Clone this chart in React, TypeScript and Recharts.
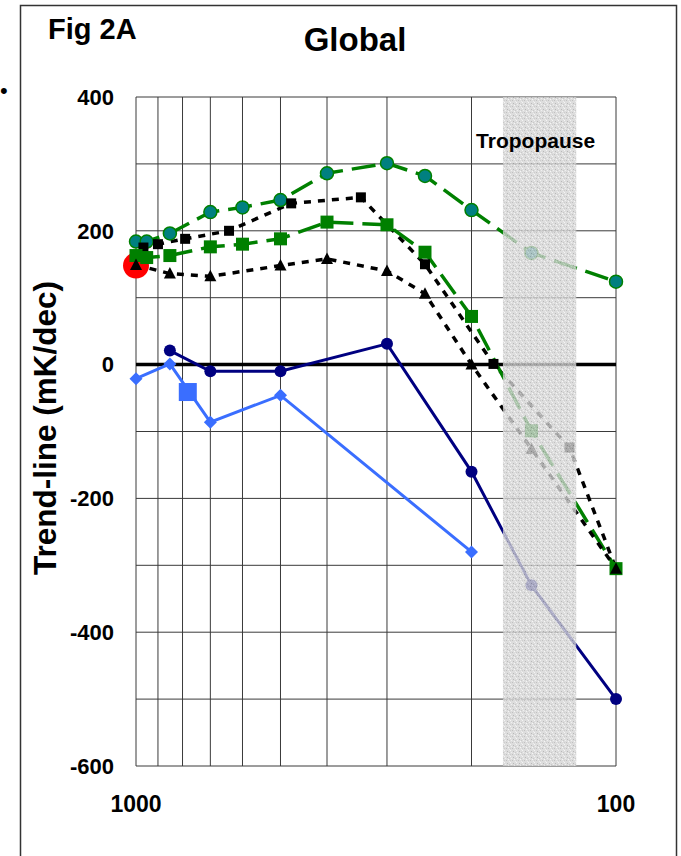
import React from 'react';
import {
  ComposedChart,
  Line,
  Scatter,
  XAxis,
  YAxis,
  CartesianGrid,
  ReferenceLine,
  ReferenceArea,
} from 'recharts';

const FONT = '"Liberation Sans", Arial, Helvetica, sans-serif';

// Axis / grid values
const pressureTicks = [1000, 100];
const trendTicks = [-600, -400, -200, 0, 200, 400];
const gridPressures = [1000, 900, 800, 700, 600, 500, 400, 300, 200, 100];
const gridTrends = [-600, -500, -400, -300, -200, -100, 0, 100, 200, 300, 400];
const tropopauseLow = 172;
const tropopauseHigh = 121;

// Series: teal circles (green dashed)
const tealP = [1000, 950, 850, 700, 600, 500, 400, 300, 250, 200, 150, 100];
const tealV = [184, 184, 196, 228, 235, 246, 286, 301, 282, 231, 167, 124];

// Series: green squares (green dashed)
const greenSqP = [1000, 950, 850, 700, 600, 500, 400, 300, 250, 200, 150, 100];
const greenSqV = [163, 160, 163, 176, 180, 188, 213, 209, 168, 72, -99, -305];

// Series: black squares (black dotted)
const blackSqP = [965, 900, 790, 640, 475, 340, 250, 180, 125, 100];
const blackSqV = [175, 180, 188, 200, 241, 250, 150, 1, -124, -305];

// Series: black triangles (black dotted)
const triP = [1000, 850, 700, 500, 400, 300, 250, 200, 150, 100];
const triV = [149, 136, 132, 148, 158, 140, 106, 0, -126, -305];

// Series: navy circles (solid)
const navyP = [850, 700, 500, 300, 200, 150, 100];
const navyV = [21, -10, -10, 31, -160, -330, -500];

// Series: light blue diamonds (solid)
const blueP = [1000, 850, 700, 500, 200];
const blueV = [-21, 1, -86, -46, -280];

// Single markers
const redPointP = [1000];
const redPointV = [148];
const bigSquareP = [780];
const bigSquareV = [-41];

const zip = (ps: number[], vs: number[]) => ps.map((p, i) => ({ p, v: vs[i] }));

const tealData = zip(tealP, tealV);
const greenSqData = zip(greenSqP, greenSqV);
const blackSqData = zip(blackSqP, blackSqV);
const triData = zip(triP, triV);
const navyData = zip(navyP, navyV);
const blueData = zip(blueP, blueV);
const redData = zip(redPointP, redPointV);
const bigSqData = zip(bigSquareP, bigSquareV);

const GREEN = '#008000';
const TEAL = '#008080';
const NAVY = '#000080';
const LBLUE = '#3A6EFF';

const tealDot = (props: any) => {
  const { cx, cy, index } = props;
  if (cx == null || cy == null) return <g key={`td${index}`} />;
  return <circle key={`td${index}`} cx={cx} cy={cy} r={6.5} fill={TEAL} stroke={GREEN} strokeWidth={1.5} />;
};
const greenSqDot = (props: any) => {
  const { cx, cy, index } = props;
  if (cx == null || cy == null) return <g key={`gs${index}`} />;
  return <rect key={`gs${index}`} x={cx - 6.5} y={cy - 6.5} width={13} height={13} fill={GREEN} />;
};
const blackSqDot = (props: any) => {
  const { cx, cy, index } = props;
  if (cx == null || cy == null) return <g key={`bs${index}`} />;
  return <rect key={`bs${index}`} x={cx - 5} y={cy - 5} width={10} height={10} fill="#000" />;
};
const triDot = (props: any) => {
  const { cx, cy, index } = props;
  if (cx == null || cy == null) return <g key={`tr${index}`} />;
  return (
    <polygon
      key={`tr${index}`}
      points={`${cx},${cy - 6.5} ${cx - 6},${cy + 5} ${cx + 6},${cy + 5}`}
      fill="#000"
    />
  );
};
const navyDot = (props: any) => {
  const { cx, cy, index } = props;
  if (cx == null || cy == null) return <g key={`nv${index}`} />;
  return <circle key={`nv${index}`} cx={cx} cy={cy} r={6} fill={NAVY} />;
};
const diamondDot = (props: any) => {
  const { cx, cy, index } = props;
  if (cx == null || cy == null) return <g key={`dm${index}`} />;
  return (
    <polygon
      key={`dm${index}`}
      points={`${cx},${cy - 6.5} ${cx + 6.5},${cy} ${cx},${cy + 6.5} ${cx - 6.5},${cy}`}
      fill={LBLUE}
    />
  );
};

const redShape = (props: any) => {
  const { cx, cy } = props;
  return <circle cx={cx} cy={cy} r={13} fill="#FF0000" />;
};
const bigSquareShape = (props: any) => {
  const { cx, cy } = props;
  return <rect x={cx - 9} y={cy - 9} width={18} height={18} fill={LBLUE} />;
};

const tickStyle = { fontSize: 22, fontWeight: 'bold' as const, fill: '#000', fontFamily: FONT };
const xTickStyle = { fontSize: 23, fontWeight: 'bold' as const, fill: '#000', fontFamily: FONT };

export default function App() {
  return (
    <div style={{ position: 'absolute', left: 0, top: 0, width: 681, height: 856, background: '#fff', overflow: 'hidden' }}>
      <svg width={0} height={0} style={{ position: 'absolute' }}>
        <defs>
          <pattern id="stipple" width={6} height={6} patternUnits="userSpaceOnUse">
            <rect x={0} y={0} width={6} height={6} fill="#d4d4d4" />
            <rect x={0} y={0} width={1} height={1} fill="#f2f2f2" />
            <rect x={3} y={1} width={1} height={1} fill="#a8a8a8" />
            <rect x={1} y={2} width={1} height={1} fill="#ececec" />
            <rect x={4} y={3} width={1} height={1} fill="#f4f4f4" />
            <rect x={2} y={4} width={1} height={1} fill="#b0b0b0" />
            <rect x={5} y={5} width={1} height={1} fill="#e8e8e8" />
            <rect x={5} y={2} width={1} height={1} fill="#bcbcbc" />
            <rect x={0} y={4} width={1} height={1} fill="#c0c0c0" />
          </pattern>
        </defs>
      </svg>
      <ComposedChart
        width={681}
        height={856}
        margin={{ top: 97, right: 65, bottom: 60, left: 76 }}
        style={{ fontFamily: FONT }}
      >
        <CartesianGrid
          horizontalValues={gridTrends}
          verticalValues={gridPressures}
          stroke="#3a3a3a"
          strokeWidth={1}
        />
        <XAxis
          dataKey="p"
          type="number"
          scale="log"
          domain={[100, 1000]}
          reversed
          ticks={pressureTicks}
          axisLine={false}
          tickLine={false}
          tickSize={0}
          tickMargin={30}
          tick={xTickStyle}
          interval={0}
          allowDecimals={false}
        />
        <YAxis
          dataKey="v"
          type="number"
          domain={[-600, 400]}
          ticks={trendTicks}
          axisLine={false}
          tickLine={false}
          tickSize={0}
          tickMargin={22}
          tick={tickStyle}
          interval={0}
        />
        <ReferenceLine y={0} stroke="#000" strokeWidth={3.5} />
        <Scatter data={redData} dataKey="v" shape={redShape} isAnimationActive={false} />
        <Line
          data={tealData}
          dataKey="v"
          type="linear"
          stroke={GREEN}
          strokeWidth={3.5}
          strokeDasharray="24 9"
          dot={tealDot}
          activeDot={false}
          isAnimationActive={false}
        />
        <Line
          data={blackSqData}
          dataKey="v"
          type="linear"
          stroke="#000"
          strokeWidth={3.5}
          strokeDasharray="7 7"
          dot={blackSqDot}
          activeDot={false}
          isAnimationActive={false}
        />
        <Line
          data={greenSqData}
          dataKey="v"
          type="linear"
          stroke={GREEN}
          strokeWidth={3.5}
          strokeDasharray="24 9"
          dot={greenSqDot}
          activeDot={false}
          isAnimationActive={false}
        />
        <Line
          data={triData}
          dataKey="v"
          type="linear"
          stroke="#000"
          strokeWidth={3.5}
          strokeDasharray="7 7"
          dot={triDot}
          activeDot={false}
          isAnimationActive={false}
        />
        <Line
          data={navyData}
          dataKey="v"
          type="linear"
          stroke={NAVY}
          strokeWidth={3}
          dot={navyDot}
          activeDot={false}
          isAnimationActive={false}
        />
        <Line
          data={blueData}
          dataKey="v"
          type="linear"
          stroke={LBLUE}
          strokeWidth={3}
          dot={diamondDot}
          activeDot={false}
          isAnimationActive={false}
        />
        <Scatter data={bigSqData} dataKey="v" shape={bigSquareShape} isAnimationActive={false} />
        <ReferenceArea
          x1={tropopauseLow}
          x2={tropopauseHigh}
          fill="url(#stipple)"
          fillOpacity={0.8}
          stroke="none"
          {...({ zIndex: 1500 } as any)}
          label={(lp: any) => {
            const vb = lp.viewBox || {};
            return (
              <text
                x={vb.x + vb.width / 2 - 4}
                y={vb.y + 51}
                textAnchor="middle"
                fontSize={21}
                fontWeight="bold"
                fontFamily={FONT}
                fill="#000"
              >
                Tropopause
              </text>
            );
          }}
        />
      </ComposedChart>
      <svg
        width={681}
        height={856}
        style={{ position: 'absolute', left: 0, top: 0, pointerEvents: 'none' }}
      >
        <rect x={20.5} y={5.5} width={656} height={860} fill="none" stroke="#333" strokeWidth={1.5} />
        <text x={0} y={98} fontSize={22} fontFamily={FONT} fill="#000">•</text>
        <text x={48} y={39} fontSize={29} fontWeight="bold" fontFamily={FONT} fill="#000">Fig 2A</text>
        <text x={355} y={51} fontSize={33} fontWeight="bold" fontFamily={FONT} fill="#000" textAnchor="middle">Global</text>
        <text
          transform="translate(56,428) rotate(-90)"
          fontSize={31.5}
          fontWeight="bold"
          fontFamily={FONT}
          fill="#000"
          textAnchor="middle"
        >
          Trend-line (mK/dec)
        </text>
      </svg>
    </div>
  );
}
